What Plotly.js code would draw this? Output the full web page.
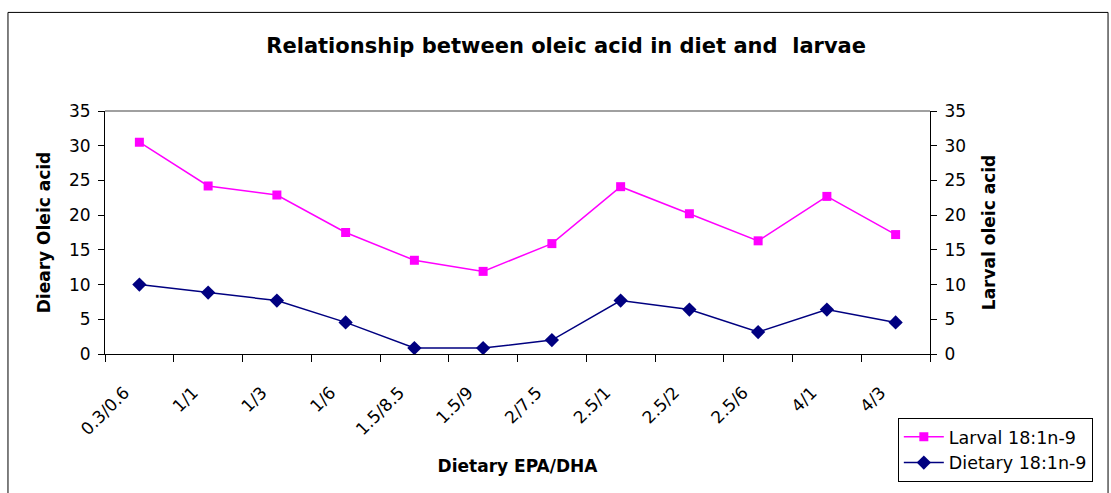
<!DOCTYPE html>
<html>
<head>
<meta charset="utf-8">
<script src="https://cdn.plot.ly/plotly-3.0.1.min.js"></script>
<style>html,body{margin:0;padding:0;background:#fff;}#chart{width:1111px;height:493px;}</style>
</head>
<body>
<div id="chart"></div>
<script>
var categories = ["0.3/0.6","1/1","1/3","1/6","1.5/8.5","1.5/9","2/7.5","2.5/1","2.5/2","2.5/6","4/1","4/3"];
var larval = [30.5, 24.2, 22.9, 17.5, 13.5, 11.9, 15.9, 24.1, 20.2, 16.3, 22.7, 17.2];
var dietary = [10.0, 8.85, 7.7, 4.55, 0.86, 0.86, 2.0, 7.7, 6.4, 3.16, 6.4, 4.55];
var yTicks = [0, 5, 10, 15, 20, 25, 30, 35];

var font = "DejaVu Sans, Arial, sans-serif";
var traces = [
  {x: categories, y: larval, name: "Larval 18:1n-9", type: "scatter", mode: "lines+markers",
   yaxis: "y2",
   line: {color: "#FF00FF", width: 1.5}, marker: {symbol: "square", size: 9, color: "#FF00FF"}},
  {x: categories, y: dietary, name: "Dietary 18:1n-9", type: "scatter", mode: "lines+markers",
   line: {color: "#000080", width: 1.5}, marker: {symbol: "diamond", size: 11, color: "#000080"}}
];
var axisY = {range: [0, 35], tickvals: yTicks, ticks: "outside", ticklen: 6, tickcolor: "#000",
  showline: true, linecolor: "#000", linewidth: 1, showgrid: false, zeroline: false, ticklabelstandoff: 4,
  tickfont: {family: font, size: 17, color: "#000"}, fixedrange: true};
var layout = {
  width: 1111, height: 493,
  margin: {l: 105, r: 181, t: 111, b: 138},
  paper_bgcolor: "#fff", plot_bgcolor: "#fff",
  font: {family: font, color: "#000"},
  showlegend: true,
  title: {text: "<b>Relationship between oleic acid in diet and  larvae</b>", font: {family: font, size: 21, color: "#000"},
    x: 0.559, xanchor: "center", y: 0.908, yanchor: "middle", xref: "paper", yref: "container"},
  xaxis: {type: "category", range: [-0.5, 11.5], tickson: "boundaries", ticks: "outside", ticklen: 7, tickcolor: "#000",
    showline: true, linecolor: "#000", linewidth: 1, showgrid: false, tickangle: -45,
    ticklabelstandoff: 21, ticklabelshift: -15,
    tickfont: {family: font, size: 17, color: "#000"},
    title: {text: "<b>Dietary EPA/DHA</b>", font: {family: font, size: 17, color: "#000"}, standoff: 22}},
  yaxis: Object.assign({}, axisY, {title: {text: "<b>Dieary Oleic acid</b>", font: {family: font, size: 17, color: "#000"}, standoff: 14}}),
  yaxis2: Object.assign({}, axisY, {overlaying: "y", side: "right",
    title: {text: "<b>Larval oleic acid</b>", font: {family: font, size: 17, color: "#000"}, standoff: 18}}),
  legend: {x: 0.961, xanchor: "left", y: -0.258, yanchor: "top", bordercolor: "#000", borderwidth: 1,
    bgcolor: "#fff", font: {family: font, size: 17.5, color: "#000"}, traceorder: "normal", tracegroupgap: 0,
    itemwidth: 40},
  shapes: [
    {type: "rect", xref: "paper", yref: "paper", x0: -0.1176, x1: 1.2158, y0: -1, y1: 1.4057,
     line: {color: "#000", width: 1}, layer: "below"},
    {type: "line", xref: "paper", yref: "paper", x0: 0, x1: 1, y0: 1, y1: 1,
     line: {color: "#808080", width: 1.5}}
  ]
};
Plotly.newPlot("chart", traces, layout, {staticPlot: true, displayModeBar: false});
</script>
</body>
</html>
